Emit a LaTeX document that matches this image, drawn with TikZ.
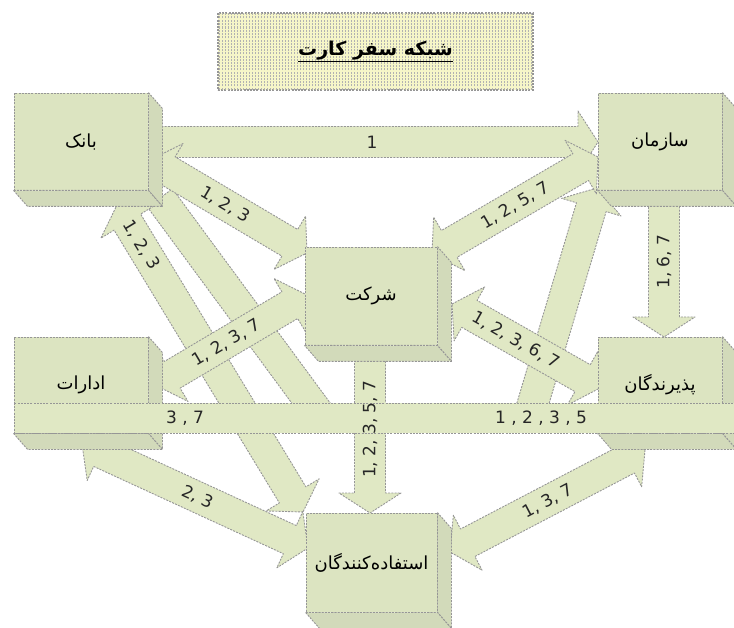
\documentclass[tikz,border=0pt]{standalone}
\usepackage{fontspec}
\usetikzlibrary{calc,patterns}
\TeXXeTstate=1
\newfontfamily\fa[Script=Arabic]{DejaVu Sans}
\newfontfamily\dv{DejaVu Sans}
\definecolor{afill}{RGB}{224,232,196}
\definecolor{bfill}{RGB}{220,228,193}
\definecolor{sfill}{RGB}{210,218,186}
\definecolor{edge}{RGB}{150,150,150}
\definecolor{tfill}{RGB}{246,246,200}
\tikzset{
  arr/.style={fill=afill, draw=edge, line width=0.9pt, dash pattern=on 2pt off 1.2pt, line join=round},
  face/.style={fill=bfill, draw=edge, line width=0.9pt, dash pattern=on 2pt off 1.2pt, inner sep=0pt,
    font=\fa\fontsize{18}{21}\selectfont},
  side/.style={fill=sfill, draw=edge, line width=0.9pt, dash pattern=on 2pt off 1.2pt, line join=round},
  lbl/.style={font=\dv\fontsize{17}{20}\selectfont, inner sep=0pt, text=black!85},
  ttlbox/.style={fill=tfill, draw=edge, line width=1.2pt, dash pattern=on 2pt off 1.2pt, inner sep=0pt,
    postaction={pattern=vertical lines, pattern color=gray!60},
    font=\fa\bfseries\fontsize{19}{22}\selectfont}
}
\def\sw{15.5pt}\def\hw{31pt}\def\hl{20pt}
% single-headed block arrow from #1 to #2
\newcommand\sarrow[2]{%
  \coordinate (hb) at ($(#2)!\hl!(#1)$);
  \path[arr] ($(#1)!\sw!90:(#2)$) -- ($(hb)!\sw!90:(#2)$) -- ($(hb)!\hw!90:(#2)$) -- (#2)
    -- ($(hb)!\hw!-90:(#2)$) -- ($(hb)!\sw!-90:(#2)$) -- ($(#1)!\sw!-90:(#2)$) -- cycle;}
% double-headed block arrow
\newcommand\darrow[2]{%
  \coordinate (hb) at ($(#2)!\hl!(#1)$);
  \coordinate (ha) at ($(#1)!\hl!(#2)$);
  \path[arr] (#1) -- ($(ha)!\hw!90:(#2)$) -- ($(ha)!\sw!90:(#2)$) -- ($(hb)!\sw!90:(#2)$)
    -- ($(hb)!\hw!90:(#2)$) -- (#2) -- ($(hb)!\hw!-90:(#2)$) -- ($(hb)!\sw!-90:(#2)$)
    -- ($(ha)!\sw!-90:(#2)$) -- ($(ha)!\hw!-90:(#2)$) -- cycle;}
% plain band
\newcommand\plainband[2]{%
  \path[arr] ($(#1)!\sw!90:(#2)$) -- ($(#2)!\sw!-90:(#1)$) -- ($(#2)!\sw!90:(#1)$) -- ($(#1)!\sw!-90:(#2)$) -- cycle;}
% 3D depth faces of a box node
\newcommand\depth[1]{%
  \path[side] (#1.north east) -- ++(14,16) -- ($(#1.south east)+(14,16)$) -- (#1.south east) -- cycle;
  \path[side] (#1.south west) -- (#1.south east) -- ($(#1.south east)+(14,16)$) -- ($(#1.south west)+(14,16)$) -- cycle;}
\begin{document}
\begin{tikzpicture}[x=1pt,y=-1pt]
\useasboundingbox (0,0) rectangle (734,628);
% title
\node[ttlbox, minimum width=315pt, minimum height=77pt] (title) at (375.5,51.5)
  {\underline{\beginR شبکه سفر کارت\endR}};
% arrow end points
\coordinate (a1s) at (155,142);  \coordinate (a1e) at (598,142);
\coordinate (a2s) at (150,160);  \coordinate (a2e) at (307,253);
\coordinate (a3s) at (303,512);  \coordinate (a3e) at (117,205);
\coordinate (a4s) at (160,198);  \coordinate (a4e) at (322,418);
\coordinate (a5s) at (598,157);  \coordinate (a5e) at (432,254);
\coordinate (a6s) at (528,420);  \coordinate (a6e) at (597,188);
\coordinate (a7s) at (664,200);  \coordinate (a7e) at (664,337);
\coordinate (a8s) at (155,385);  \coordinate (a8e) at (307,295);
\coordinate (a9s) at (452,304);  \coordinate (a9e) at (600,388);
\coordinate (a10s) at (370,358); \coordinate (a10e) at (370,513);
\coordinate (a11s) at (82,444);  \coordinate (a11e) at (308,548);
\coordinate (a12s) at (450,552); \coordinate (a12e) at (645,450);
\coordinate (hbl) at (14,403);   \coordinate (hbr) at (734,433);
% arrows
\plainband{a4s}{a4e}
\darrow{a3s}{a3e}
\sarrow{a6s}{a6e}
\sarrow{a1s}{a1e}
\darrow{a2s}{a2e}
\darrow{a5s}{a5e}
\sarrow{a7s}{a7e}
\darrow{a8s}{a8e}
\darrow{a9s}{a9e}
\sarrow{a10s}{a10e}
\darrow{a11s}{a11e}
\darrow{a12s}{a12e}
% boxes
\node[face, minimum width=134pt, minimum height=97pt] (bank) at (81,141.5) {\beginR بانک\endR};
\depth{bank}
\node[face, minimum width=124pt, minimum height=97pt] (sazman) at (660,141.5) {\beginR سازمان\endR};
\depth{sazman}
\node[face, minimum width=132pt, minimum height=98pt] (sherkat) at (371,296) {\beginR شرکت\endR};
\depth{sherkat}
\node[face, minimum width=134pt, minimum height=96pt] (edarat) at (81,385) {\beginR ادارات\endR};
\depth{edarat}
\node[face, minimum width=124pt, minimum height=96pt] (pazir) at (660,385) {\beginR پذیرندگان\endR};
\depth{pazir}
\node[face, minimum width=131pt, minimum height=99pt] (estefade) at (371.5,562.5) {\beginR استفاده‌کنندگان\endR};
\depth{estefade}
% horizontal band
\path[arr] (hbl) rectangle (hbr);
% labels
\path (a1s) -- (a1e) node[lbl, pos=0.49] {1};
\path (a2s) -- (a2e) node[lbl, pos=0.48, sloped] {1, 2, 3};
\path (a3s) -- (a3e) node[lbl, pos=0.87, sloped] {1, 2, 3};
\path (a5s) -- (a5e) node[lbl, pos=0.5, sloped] {1, 2, 5, 7};
\path (a7s) -- (a7e) node[lbl, pos=0.45, rotate=90] {1, 6, 7};
\path (a8s) -- (a8e) node[lbl, pos=0.47, sloped] {1, 2, 3, 7};
\path (a9s) -- (a9e) node[lbl, pos=0.43, sloped] {1, 2, 3, 6, 7};
\path (a10s) -- (a10e) node[lbl, pos=0.46, rotate=90] {1, 2, 3, 5, 7};
\path (a11s) -- (a11e) node[lbl, pos=0.51, sloped] {2, 3};
\path (a12s) -- (a12e) node[lbl, pos=0.5, sloped] {1, 3, 7};
\node[lbl] (l37) at (185,418) {3 , 7};
\node[lbl] (l1235) at (541,418) {1 , 2 , 3 , 5};
\end{tikzpicture}
\end{document}
